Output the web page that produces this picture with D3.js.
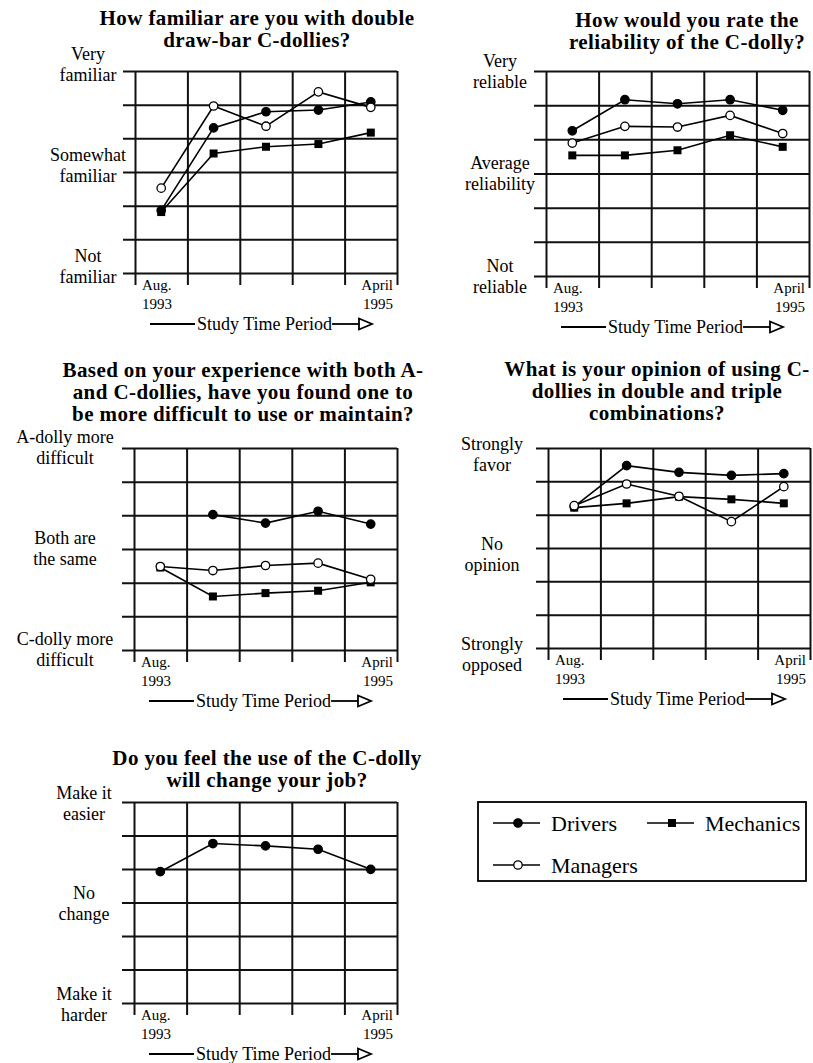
<!DOCTYPE html>
<html>
<head>
<meta charset="utf-8">
<script src="https://cdn.jsdelivr.net/npm/d3@7"></script>
<style>
    body { margin: 0; background: #fff; }
    svg text { font-family: "Liberation Serif", "Times New Roman", serif; fill: #000; }
</style>
</head>
<body>
<div id="chart"></div>
<script>
// survey periods, only the first and last one get a label
const periods = ['Aug. 1993', 'Survey 2', 'Survey 3', 'Survey 4', 'April 1995'];
const periodLabels = [['Aug.', '1993'], ['April', '1995']];
const seriesNames = ['Drivers', 'Mechanics', 'Managers'];

// scale runs from 0 (bottom line) to 6 (top line)
const familiarDrivers   = [1.86, 4.31, 4.79, 4.84, 5.08];
const familiarMechanics = [1.81, 3.55, 3.75, 3.83, 4.17];
const familiarManagers  = [2.52, 4.96, 4.36, 5.38, 4.92];

const reliableDrivers   = [4.25, 5.16, 5.04, 5.16, 4.85];
const reliableMechanics = [3.53, 3.53, 3.68, 4.12, 3.78];
const reliableManagers  = [3.89, 4.38, 4.36, 4.70, 4.17];

const difficultDrivers   = [null, 4.02, 3.77, 4.12, 3.74];
const difficultMechanics = [2.45, 1.59, 1.69, 1.76, 2.01];
const difficultManagers  = [2.48, 2.36, 2.51, 2.58, 2.10];

const opinionDrivers   = [4.24, 5.47, 5.27, 5.18, 5.23];
const opinionMechanics = [4.21, 4.34, 4.54, 4.46, 4.34];
const opinionManagers  = [4.27, 4.92, 4.55, 3.79, 4.84];

const jobDrivers = [3.92, 4.76, 4.69, 4.59, 3.99];

// answer labels on the left of each chart
const familiarLabels  = [[6, 'Very', 'familiar'], [3, 'Somewhat', 'familiar'], [0, 'Not', 'familiar']];
const reliableLabels  = [[6, 'Very', 'reliable'], [3, 'Average', 'reliability'], [0, 'Not', 'reliable']];
const difficultLabels = [[6, 'A-dolly more', 'difficult'], [3, 'Both are', 'the same'], [0, 'C-dolly more', 'difficult']];
const opinionLabels   = [[6, 'Strongly', 'favor'], [3, 'No', 'opinion'], [0, 'Strongly', 'opposed']];
const jobLabels       = [[6, 'Make it', 'easier'], [3, 'No', 'change'], [0, 'Make it', 'harder']];

const titles = [
    ['How familiar are you with double', 'draw-bar C-dollies?'],
    ['How would you rate the', 'reliability of the C-dolly?'],
    ['Based on your experience with both A-', 'and C-dollies, have you found one to', 'be more difficult to use or maintain?'],
    ['What is your opinion of using C-', 'dollies in double and triple', 'combinations?'],
    ['Do you feel the use of the C-dolly', 'will change your job?']
];

const FONT = '"Liberation Serif", "Times New Roman", serif';

const svg = d3.select('#chart').append('svg')
    .attr('width', 813)
    .attr('height', 1063)
    .style('font-family', FONT);

// layout of the five small charts
const panels = [
    { title: titles[0], tx: 257, ty: 18, x: 135, y: 71, w: 262, h: 202, lx: -47, ldy: -7,
      labels: familiarLabels, data: [familiarDrivers, familiarMechanics, familiarManagers] },
    { title: titles[1], tx: 687, ty: 20, x: 546, y: 71, w: 263, h: 205, lx: -46, ldy: 0,
      labels: reliableLabels, data: [reliableDrivers, reliableMechanics, reliableManagers] },
    { title: titles[2], tx: 243, ty: 370, x: 134, y: 448, w: 263, h: 202, lx: -69, ldy: -1,
      labels: difficultLabels, data: [difficultDrivers, difficultMechanics, difficultManagers] },
    { title: titles[3], tx: 657, ty: 369, x: 548, y: 448, w: 262, h: 200, lx: -56, ldy: 6,
      labels: opinionLabels, data: [opinionDrivers, opinionMechanics, opinionManagers] },
    { title: titles[4], tx: 267, ty: 758, x: 134, y: 802, w: 263, h: 201, lx: -50, ldy: 1,
      labels: jobLabels, data: [jobDrivers] }
];

function marker(sel, name) {
    if (name === 'Mechanics') {
        sel.append('rect')
            .attr('x', -4).attr('y', -4)
            .attr('width', 8).attr('height', 8)
            .attr('fill', '#000');
    } else {
        sel.append('circle')
            .attr('r', 4.2)
            .attr('fill', name === 'Managers' ? '#fff' : '#000')
            .attr('stroke', '#000')
            .attr('stroke-width', 1.3);
    }
}

function drawPanel(p) {
    // title
    svg.append('text')
        .attr('x', p.tx)
        .attr('y', p.ty)
        .attr('text-anchor', 'middle')
        .attr('dominant-baseline', 'central')
        .style('font-family', FONT)
        .style('font-size', '21px')
        .style('letter-spacing', '0.4px')
        .style('font-weight', 'bold')
        .selectAll('tspan')
        .data(p.title)
        .join('tspan')
            .attr('x', p.tx)
            .attr('dy', (d, i) => i ? 22 : 0)
            .text(d => d);

    const g = svg.append('g')
        .attr('transform', `translate(${p.x},${p.y})`);

    const y = d3.scaleLinear().domain([0, 6]).range([p.h, 0]);
    const xGrid = d3.scaleLinear().domain([0, periods.length]).range([0, p.w]);
    const x = d3.scalePoint().domain(periods).range([0, p.w]).padding(0.5);

    // grid lines stick out a little past the frame on the left and bottom
    g.append('g')
        .attr('transform', 'translate(-12,0)')
        .call(d3.axisLeft(y).tickValues(d3.range(0, 7)).tickSize(-(p.w + 12)).tickFormat(''))
        .call(a => a.select('.domain').remove())
        .selectAll('line').attr('stroke', '#111').attr('stroke-width', 2);

    g.append('g')
        .attr('transform', `translate(0,${p.h + 12})`)
        .call(d3.axisBottom(xGrid).tickValues(d3.range(0, periods.length + 1)).tickSize(-(p.h + 12)).tickFormat(''))
        .call(a => a.select('.domain').remove())
        .selectAll('line').attr('stroke', '#111').attr('stroke-width', 2);

    // answer labels
    p.labels.forEach(l => {
        svg.append('text')
            .attr('text-anchor', 'middle')
            .attr('dominant-baseline', 'central')
            .style('font-family', FONT)
            .style('font-size', '18px')
            .selectAll('tspan')
            .data([l[1], l[2]])
            .join('tspan')
                .attr('x', p.x + p.lx)
                .attr('y', (d, i) => p.y + y(l[0]) + p.ldy + (i ? 10.5 : -10.5))
                .text(d => d);
    });

    // first and last period labels
    [0, periods.length - 1].forEach((k, j) => {
        svg.append('text')
            .attr('text-anchor', j ? 'end' : 'start')
            .attr('dominant-baseline', 'central')
            .style('font-family', FONT)
            .style('font-size', '15px')
            .selectAll('tspan')
            .data(periodLabels[j])
            .join('tspan')
                .attr('x', p.x + (j ? xGrid(k + 1) - 4 : xGrid(k) + 7))
                .attr('y', (d, i) => p.y + p.h + (i ? 31 : 12))
                .text(d => d);
    });

    // "Study Time Period" arrow
    const ay = p.y + p.h + 51;
    const label = svg.append('text')
        .attr('x', p.x + 62)
        .attr('y', ay)
        .attr('dominant-baseline', 'central')
        .style('font-family', FONT)
        .style('font-size', '18px')
        .text('Study Time Period');
    const tEnd = p.x + 62 + label.node().getComputedTextLength();
    svg.append('line')
        .attr('x1', p.x + 15).attr('x2', p.x + 60)
        .attr('y1', ay).attr('y2', ay)
        .attr('stroke', '#000').attr('stroke-width', 1.8);
    svg.append('line')
        .attr('x1', tEnd).attr('x2', p.x + 224)
        .attr('y1', ay).attr('y2', ay)
        .attr('stroke', '#000').attr('stroke-width', 1.8);
    svg.append('path')
        .attr('d', `M${p.x + 224},${ay - 5.5}L${p.x + 237},${ay}L${p.x + 224},${ay + 5.5}Z`)
        .attr('fill', '#fff')
        .attr('stroke', '#000')
        .attr('stroke-width', 1.8);

    // series lines then markers
    const line = d3.line()
        .defined(d => d[1] !== null)
        .x(d => x(d[0]))
        .y(d => y(d[1]));

    p.data.forEach((values, s) => {
        const pts = periods.map((d, i) => [d, values[i]]);
        g.append('path')
            .datum(pts)
            .attr('d', line)
            .attr('fill', 'none')
            .attr('stroke', '#000')
            .attr('stroke-width', 1.6);

        g.selectAll(null)
            .data(pts.filter(d => d[1] !== null))
            .join('g')
            .attr('transform', d => `translate(${x(d[0])},${y(d[1])})`)
            .each(function () { marker(d3.select(this), seriesNames[s]); });
    });
}

panels.forEach(drawPanel);

// legend
const legend = svg.append('g');
legend.append('rect')
    .attr('x', 478).attr('y', 802)
    .attr('width', 328).attr('height', 79)
    .attr('fill', 'none')
    .attr('stroke', '#000')
    .attr('stroke-width', 1.8);

const legendPos = [[493, 823], [647, 823], [493, 865]];
seriesNames.forEach((name, i) => {
    const [lx, ly] = legendPos[i];
    legend.append('line')
        .attr('x1', lx).attr('x2', lx + 47)
        .attr('y1', ly).attr('y2', ly)
        .attr('stroke', '#000').attr('stroke-width', 1.6);
    legend.append('g')
        .attr('transform', `translate(${lx + 25},${ly})`)
        .call(marker, name);
    legend.append('text')
        .attr('x', lx + 58)
        .attr('y', ly)
        .attr('dominant-baseline', 'central')
        .style('font-family', FONT)
        .style('font-size', '22px')
        .text(name);
});
</script>
</body>
</html>
